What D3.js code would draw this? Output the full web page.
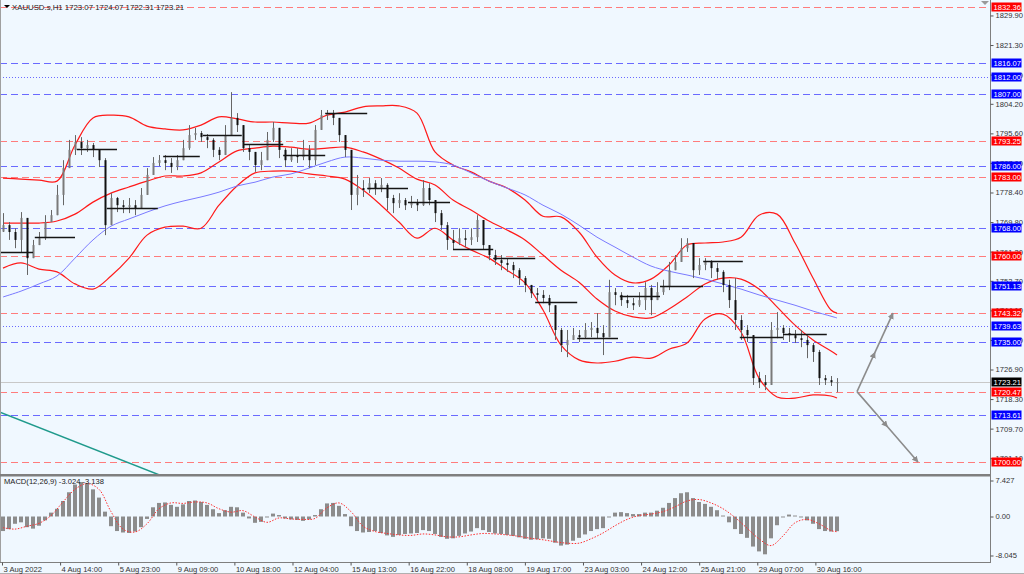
<!DOCTYPE html>
<html><head><meta charset="utf-8">
<script src="https://cdn.jsdelivr.net/npm/d3@7"></script>
<style>
html,body{margin:0;padding:0;background:#f0f8ff;overflow:hidden;}
svg{display:block;}
text{font-family:"Liberation Sans",Arial,sans-serif;}
</style></head><body>
<svg id="c" width="1024" height="574"></svg>
<script>
// ---------- DATA ----------
const titleText = "XAUUSD.s,H1  1723.07 1724.07 1722.31 1723.21";
const macdTitle = "MACD(12,26,9) -3.024 -3.138";
const firstOpen = 1767.0;
const closes = [
1768.9,1766.9,1764.6,1771.0,1759.3,1763.1,1765.1,1769.8,1771.8,1777.7,
1785.5,1790.8,1793.1,1791.3,1792.2,1790.8,1787.8,1768.9,1776.8,1774.7,
1774.2,1774.7,1773.9,1777.7,1783.5,1787.0,1787.8,1787.0,1785.8,1787.8,
1791.3,1795.1,1795.7,1794.5,1793.7,1790.8,1789.3,1795.1,1800.1,1798.0,
1791.3,1790.2,1786.4,1787.8,1793.7,1797.2,1790.8,1787.8,1789.3,1788.7,
1790.8,1787.8,1796.6,1800.9,1801.5,1800.1,1795.1,1790.8,1777.7,1779.7,
1779.1,1781.1,1779.7,1780.6,1776.8,1775.3,1776.2,1774.7,1775.6,1774.7,
1779.7,1776.2,1772.4,1768.9,1764.6,1763.7,1765.1,1764.6,1765.4,1770.4,
1763.1,1760.2,1758.7,1757.9,1757.3,1755.8,1753.5,1751.5,1749.1,1748.6,
1747.7,1745.6,1738.4,1734.0,1735.5,1736.9,1736.3,1738.4,1739.0,1737.5,
1736.3,1749.4,1748.6,1747.1,1746.2,1745.6,1747.1,1750.6,1747.1,1749.4,
1750.9,1755.8,1758.2,1762.2,1763.7,1755.8,1757.3,1758.2,1756.4,1755.3,
1751.5,1747.1,1741.3,1738.4,1736.9,1724.4,1723.2,1722.4,1738.4,1739.0,
1737.5,1736.9,1736.0,1735.5,1734.0,1732.0,1724.4,1723.8,1723.2,1723.21];
const highs = [
1772.4,1769.8,1768.0,1772.7,1764.6,1764.6,1766.9,1771.8,1773.3,1780.6,
1787.8,1793.7,1795.1,1794.5,1793.7,1792.8,1790.8,1788.4,1778.2,1777.1,
1776.2,1776.8,1776.2,1779.7,1785.5,1788.7,1789.3,1789.3,1788.4,1789.3,
1793.7,1798.0,1797.2,1796.3,1795.4,1794.2,1791.6,1798.0,1807.6,1801.5,
1798.0,1792.2,1789.3,1790.2,1796.0,1798.9,1797.2,1791.3,1791.3,1791.3,
1793.7,1792.2,1798.0,1802.4,1802.4,1802.4,1800.1,1795.1,1790.8,1783.5,
1782.0,1782.6,1782.0,1782.6,1781.1,1777.7,1778.2,1776.8,1777.4,1776.5,
1782.0,1781.1,1776.2,1773.3,1769.8,1767.5,1768.0,1767.5,1768.0,1771.8,
1769.8,1763.1,1761.7,1760.2,1759.3,1758.2,1756.4,1754.1,1751.5,1750.6,
1750.0,1748.6,1745.6,1739.0,1738.4,1739.0,1738.4,1740.4,1740.7,1743.3,
1739.8,1753.0,1750.6,1749.4,1748.6,1747.7,1749.4,1752.3,1751.5,1752.3,
1753.0,1758.2,1760.2,1765.1,1765.1,1763.1,1759.3,1759.3,1758.7,1757.9,
1755.8,1753.0,1753.5,1742.7,1739.8,1736.9,1726.2,1725.3,1740.7,1743.6,
1739.8,1739.0,1738.4,1738.4,1736.9,1734.6,1732.6,1725.3,1725.0,1724.4];
const lows = [
1766.9,1764.6,1762.2,1761.1,1754.4,1759.3,1763.1,1764.6,1769.8,1773.3,
1774.7,1785.5,1789.3,1789.3,1790.2,1788.7,1785.8,1766.0,1771.8,1772.7,
1772.4,1772.4,1771.8,1773.9,1777.7,1784.4,1786.1,1784.9,1784.1,1784.9,
1787.8,1790.8,1793.7,1793.1,1791.3,1788.7,1787.8,1790.8,1796.6,1796.0,
1790.2,1787.8,1784.4,1784.9,1787.8,1793.1,1788.4,1785.8,1787.3,1787.0,
1787.8,1785.5,1786.4,1797.2,1799.5,1798.0,1793.1,1788.7,1773.3,1774.7,
1777.1,1778.2,1777.7,1778.5,1773.3,1772.4,1773.9,1773.3,1773.9,1773.0,
1774.5,1774.7,1769.8,1767.5,1761.7,1761.7,1763.1,1762.5,1763.1,1764.0,
1761.7,1758.7,1757.3,1755.8,1755.3,1753.5,1751.5,1749.4,1747.7,1747.1,
1746.2,1743.6,1735.5,1732.0,1730.5,1735.5,1734.9,1736.0,1736.3,1736.0,
1731.1,1736.3,1745.6,1745.4,1744.8,1744.2,1745.1,1744.2,1742.7,1747.1,
1748.6,1750.0,1755.8,1758.2,1761.1,1753.5,1754.4,1755.8,1753.5,1753.0,
1749.4,1744.8,1738.4,1735.5,1734.9,1722.4,1721.5,1720.9,1722.4,1736.0,
1735.5,1734.9,1734.6,1733.4,1730.2,1729.1,1722.4,1722.4,1722.1,1720.3];

// Bollinger bands and moving average, read every 3rd bar (plus the last bar)
const bbUpper = [1782.6,1782.3,1782.0,1781.7,1792.2,1800.1,1800.9,1800.4,1797.7,1796.9,
1796.6,1798.0,1800.4,1799.8,1798.9,1798.9,1798.6,1798.6,1800.9,1801.8,
1803.3,1803.6,1803.6,1801.5,1790.2,1786.4,1784.4,1781.7,1779.7,1776.2,
1771.5,1771.3,1766.9,1759.6,1754.4,1752.1,1753.2,1757.3,1763.1,1763.7,
1764.0,1765.4,1771.8,1772.1,1763.7,1753.5,1744.2,1743.3];
const bbMiddle = [1769.5,1769.5,1769.5,1770.1,1772.1,1775.6,1778.2,1780.0,1781.7,1783.2,
1783.2,1784.1,1787.3,1790.5,1791.3,1791.9,1791.6,1791.0,1791.3,1791.6,
1790.2,1788.1,1785.5,1782.3,1780.6,1776.2,1773.3,1770.1,1767.5,1764.6,
1760.2,1755.8,1752.3,1747.4,1743.9,1742.2,1741.9,1744.5,1748.0,1751.8,
1753.5,1753.2,1750.3,1745.1,1739.8,1735.5,1732.3,1731.1];
const bbLower = [1756.4,1757.9,1756.1,1755.3,1751.8,1750.3,1754.1,1759.3,1766.0,1768.3,
1768.6,1768.0,1774.7,1780.3,1784.1,1784.6,1784.6,1783.8,1783.2,1782.3,
1779.1,1774.7,1769.8,1765.1,1768.0,1764.6,1761.7,1759.3,1755.8,1752.1,
1744.2,1734.0,1729.7,1728.8,1729.3,1730.5,1730.2,1732.8,1734.6,1741.6,
1743.0,1737.8,1724.4,1718.9,1718.6,1719.5,1719.2,1718.6];
const maBlue = [1748.0,1749.7,1751.8,1754.1,1759.3,1764.6,1768.6,1770.7,1772.7,1774.5,
1775.9,1777.1,1778.5,1780.3,1781.4,1782.9,1783.8,1785.5,1787.3,1788.7,
1788.4,1787.8,1787.5,1787.5,1787.3,1786.4,1784.1,1781.7,1779.7,1777.7,
1774.7,1772.1,1768.9,1765.4,1762.5,1759.6,1757.0,1755.5,1754.4,1753.2,
1751.8,1750.3,1748.6,1747.1,1745.6,1743.9,1742.4,1741.9];

const macdHist = [
-3.0,-2.6,-1.5,-1.2,-2.2,-2.5,-1.9,-0.8,0.8,1.6,
3.2,5.0,6.6,7.1,6.8,5.6,3.9,1.0,-2.0,-3.0,
-3.3,-3.4,-3.1,-2.2,-0.5,1.9,2.8,2.9,2.4,2.0,
2.5,3.2,3.3,3.0,2.4,1.5,0.7,1.3,2.0,1.9,
0.8,-0.4,-1.3,-1.1,-0.2,0.6,0.3,-0.4,-0.6,-0.7,
-0.9,-0.6,0.3,1.5,2.7,2.8,2.2,0.5,-2.0,-3.0,
-3.3,-3.2,-3.0,-3.4,-3.9,-4.2,-3.8,-3.6,-3.5,-3.4,
-2.8,-3.0,-3.6,-4.2,-4.6,-4.5,-4.0,-3.5,-3.1,-2.4,
-2.8,-3.2,-3.5,-3.6,-3.8,-4.0,-4.3,-4.6,-4.8,-4.7,
-4.5,-4.6,-5.4,-6.0,-5.8,-5.0,-4.4,-3.7,-3.0,-2.6,
-2.4,-0.2,0.8,0.9,0.7,0.5,0.5,0.8,0.8,1.2,
1.8,2.8,3.8,4.8,5.0,3.8,3.0,2.6,2.0,1.3,
0.2,-1.2,-2.6,-3.6,-4.4,-6.2,-7.2,-7.8,-4.5,-1.8,
-0.2,0.4,0.2,-0.2,-0.8,-1.5,-2.6,-3.0,-3.1,-3.024];
// signal line, read every 2nd bar (plus the last bar)
const macdSignal = [
-2.3,-2.6,-2.0,-1.4,0.2,3.0,5.6,6.8,5.6,1.0,
-2.6,-3.2,-1.5,1.6,2.8,2.7,3.0,2.8,1.6,0.9,
1.2,-0.1,-1.2,-0.3,-0.5,-0.6,-0.4,1.8,2.8,1.0,
-2.0,-3.1,-3.5,-3.8,-3.9,-3.6,-3.8,-4.2,-4.2,-3.8,
-3.5,-3.6,-3.8,-4.1,-4.5,-4.8,-5.2,-5.5,-5.5,-4.6,
-3.4,-1.9,-0.6,0.2,0.5,1.0,2.0,3.2,3.5,2.8,
1.6,-0.2,-2.4,-4.6,-6.0,-4.0,-1.3,-0.6,-1.5,-2.9,-3.138];

const xLabels = ["3 Aug 2022","4 Aug 14:00","5 Aug 23:00","9 Aug 09:00","10 Aug 18:00","12 Aug 04:00",
"15 Aug 13:00","16 Aug 22:00","18 Aug 08:00","19 Aug 17:00","23 Aug 03:00","24 Aug 12:00",
"25 Aug 21:00","29 Aug 07:00","30 Aug 16:00"];
const barsPerLabel = 9.683;
const yTicks = [1829.90,1821.30,1812.70,1804.20,1795.60,1787.00,1778.40,1769.80,1761.20,1752.70,1744.10,1735.50,1726.90,1718.30,1709.70,1701.10];
const macdTicks = [7.427,0,-8.045];
const macdTickLabels = ["7.427","0.00","-8.045"];

const levelPrices = [1832.36,1816.07,1812.00,1807.00,1793.25,1786.00,1783.00,1768.00,1760.00,1751.13,1743.32,1739.63,1735.00,1720.47,1713.61,1700.00];
const levelKinds  = ["red","blue","blueDot","blue","red","blue","red","blue","red","blue","red","blueDot","blue","red","blue","red"];
const currentPrice = 1723.21;

const pivotFrom  = [-0.5,5.3,12.3,17.3,26.7,33.3,40,46.7,53.7,60.7,67.5,75,81.7,88.7,95.7,102.8,109.5,116.7,122.8,130];
const pivotTo    = [5,12,19,25.8,32.8,39.8,46.7,53.7,60.7,67.5,74.5,81.7,88.7,95.7,102.5,109.5,116.7,123.3,130,137.3];
const pivotPrice = [1761.1,1765.4,1791.0,1773.9,1789.0,1795.1,1792.5,1789.3,1801.5,1779.7,1775.6,1761.9,1759.3,1746.5,1736.0,1748.3,1751.2,1758.4,1736.3,1737.2];

const trendBars = [-0.5, 25.67];
const trendPrices = [1714.5, 1696.5];

const arrowStart = [142.33, 1720.47];
const arrowEndBars = [148.33, 152.5];
const arrowEndPrices = [1743.32, 1700.00];

// ---------- DRAW ----------
const svg = d3.select("#c");
const plotR = 990, mainB = 474, macdT = 477, macdB = 562;
const x = d3.scaleLinear().domain([0,139]).range([3,837]);
const y = d3.scaleLinear().domain([1696.5,1834.4]).range([474,0]);
const ym = d3.scaleLinear().domain([-8.045,7.427]).range([555.5,480.5]);

svg.append("rect").attr("width",1024).attr("height",574).attr("fill","#f0f8ff");

const defs = svg.append("defs");
defs.append("clipPath").attr("id","mainClip").append("rect").attr("x",0).attr("y",0).attr("width",plotR).attr("height",mainB);
defs.append("clipPath").attr("id","macdClip").append("rect").attr("x",0).attr("y",macdT).attr("width",plotR).attr("height",macdB-macdT);
defs.append("marker").attr("id","arr").attr("viewBox","0 0 10 10").attr("refX",9).attr("refY",5)
  .attr("markerWidth",4).attr("markerHeight",4).attr("orient","auto")
  .append("path").attr("d","M0,0 L10,5 L0,10 z").attr("fill","#8c8c8c");

const main = svg.append("g").attr("clip-path","url(#mainClip)");
const colors = {red:"#ff7c7c", blue:"#6a6aff", blueDot:"#6a6aff"};
const dashes = {red:"7,4", blue:"7,4", blueDot:"1,2"};

// level lines
levelPrices.forEach((p,i)=>{
  const yy = Math.round(y(p))+0.5;
  main.append("line").attr("x1",0).attr("x2",plotR).attr("y1",yy).attr("y2",yy)
    .attr("stroke",colors[levelKinds[i]]).attr("stroke-width",1).attr("stroke-dasharray",dashes[levelKinds[i]]);
});
// current price line
{
  const yy = Math.round(y(currentPrice))+0.5;
  main.append("line").attr("x1",0).attr("x2",plotR).attr("y1",yy).attr("y2",yy).attr("stroke","#c8c8c8").attr("stroke-width",1);
}

// bands
const bandIdx = d3.range(0,139,3).concat([139]);
const bandLine = d3.line().x((d,k)=>x(bandIdx[k])).y(d=>y(d)).curve(d3.curveCatmullRom.alpha(0.5));
[bbUpper,bbMiddle,bbLower].forEach(s=>{
  main.append("path").attr("d",bandLine(s)).attr("fill","none").attr("stroke","#ff1a1a").attr("stroke-width",1.2);
});
main.append("path").attr("d",bandLine(maBlue)).attr("fill","none").attr("stroke","#7a7aff").attr("stroke-width",1);

// candles
const cg = main.append("g");
closes.forEach((c,i)=>{
  const o = i ? closes[i-1] : firstOpen;
  const hi = Math.max(highs[i],o,c), lo = Math.min(lows[i],o,c);
  const xx = Math.round(x(i))+0.5;
  cg.append("line").attr("x1",xx).attr("x2",xx).attr("y1",y(hi)).attr("y2",y(lo)).attr("stroke","#666").attr("stroke-width",1);
  const top = y(Math.max(o,c)), h = Math.max(1, Math.abs(y(o)-y(c)));
  cg.append("rect").attr("x",xx-1).attr("y",top).attr("width",2).attr("height",h)
    .attr("fill", c<o ? "#111" : "#7a7a7a");
});

// pivot segments
pivotPrice.forEach((p,i)=>{
  const yy = Math.round(y(p))+0.5;
  main.append("line").attr("x1",x(pivotFrom[i])).attr("x2",x(pivotTo[i])).attr("y1",yy).attr("y2",yy)
    .attr("stroke","#151515").attr("stroke-width",1.3);
});

// teal trendline
{
  const x1=x(trendBars[0]), y1=y(trendPrices[0]), x2=x(trendBars[1]), y2=y(trendPrices[1]);
  main.append("line").attr("x1",x1).attr("y1",y1).attr("x2",x2+(x2-x1)*0.1).attr("y2",y2+(y2-y1)*0.1)
    .attr("stroke","#1f9a8c").attr("stroke-width",1.5);
}

// arrows
arrowEndBars.forEach((b,i)=>{
  const sx=x(arrowStart[0]), sy=y(arrowStart[1]), ex=x(b), ey=y(arrowEndPrices[i]);
  const mx=(sx+ex)/2, my=(sy+ey)/2;
  main.append("path").attr("d",`M${sx},${sy}L${mx},${my}L${ex},${ey}`).attr("fill","none")
    .attr("stroke","#8c8c8c").attr("stroke-width",1.6)
    .attr("marker-mid","url(#arr)").attr("marker-end","url(#arr)");
});

// MACD
const mg = svg.append("g").attr("clip-path","url(#macdClip)");
macdHist.forEach((v,i)=>{
  const xx = Math.round(x(i));
  const y0 = ym(0), y1 = ym(v);
  mg.append("rect").attr("x",xx-2).attr("width",4).attr("y",Math.min(y0,y1)).attr("height",Math.max(0.5,Math.abs(y1-y0)))
    .attr("fill","#8c8c8c");
});
const sigIdx = macdSignal.map((v,k)=> k < macdSignal.length-1 ? 2*k : 139);
mg.append("path").attr("d", d3.line().x((d,k)=>x(sigIdx[k])).y(d=>ym(d)).curve(d3.curveCatmullRom)(macdSignal))
  .attr("fill","none").attr("stroke","#ff3030").attr("stroke-width",1).attr("stroke-dasharray","1.5,1.5");

// frames
const frame = "#7f7f7f";
svg.append("line").attr("x1",0.5).attr("x2",0.5).attr("y1",0).attr("y2",macdB).attr("stroke","#a0a0a0");
svg.append("rect").attr("x",0).attr("y",mainB).attr("width",plotR+1).attr("height",2.5).attr("fill",frame);
svg.append("line").attr("x1",0).attr("x2",plotR).attr("y1",macdB+0.5).attr("y2",macdB+0.5).attr("stroke",frame);
svg.append("line").attr("x1",plotR+0.5).attr("x2",plotR+0.5).attr("y1",0).attr("y2",macdB+1).attr("stroke",frame);
svg.append("line").attr("x1",0).attr("x2",1024).attr("y1",573.5).attr("y2",573.5).attr("stroke","#b0b0b0");

// y axis (price)
const yAxis = d3.axisRight(y).tickValues(yTicks).tickFormat(d3.format(".2f")).tickSize(3).tickPadding(2);
const ya = svg.append("g").attr("transform",`translate(${plotR+0.5},0)`).call(yAxis);
ya.select(".domain").remove();
ya.selectAll("line").attr("stroke","#555");
ya.selectAll("text").attr("font-size","7.6px").attr("fill","#333").attr("font-family","Liberation Sans, Arial");

// macd axis
const mAxis = d3.axisRight(ym).tickValues(macdTicks).tickFormat((d,i)=>macdTickLabels[i]).tickSize(3).tickPadding(2);
const ma = svg.append("g").attr("transform",`translate(${plotR+0.5},0)`).call(mAxis);
ma.select(".domain").remove();
ma.selectAll("line").attr("stroke","#555");
ma.selectAll("text").attr("font-size","7.6px").attr("fill","#333").attr("font-family","Liberation Sans, Arial");

// x axis
const tickIdx = xLabels.map((d,k)=> k*barsPerLabel - 0.167);
const xAxis = d3.axisBottom(x).tickValues(tickIdx).tickFormat((d,i)=>xLabels[i]).tickSize(3).tickPadding(1);
const xa = svg.append("g").attr("transform",`translate(0,${macdB+0.5})`).call(xAxis);
xa.select(".domain").remove();
xa.selectAll("line").attr("stroke","#555");
xa.selectAll("text").attr("font-size","7.6px").attr("fill","#333").attr("text-anchor","start").attr("dx","1px")
  .attr("font-family","Liberation Sans, Arial");

// level labels
const bg = {red:"#ff0000", blue:"#0000ff", blueDot:"#0000ff"};
levelPrices.forEach((p,i)=>{
  const yy = y(p);
  svg.append("rect").attr("x",plotR+1.5).attr("y",Math.round(yy)-4.5).attr("width",30).attr("height",9).attr("fill",bg[levelKinds[i]]);
  svg.append("text").attr("x",plotR+3.5).attr("y",Math.round(yy)+3).attr("font-size","7.6px").attr("fill","#fff").text(p.toFixed(2));
});
{
  const yy = y(currentPrice);
  svg.append("rect").attr("x",plotR+1.5).attr("y",Math.round(yy)-4.5).attr("width",30).attr("height",9).attr("fill","#000");
  svg.append("text").attr("x",plotR+3.5).attr("y",Math.round(yy)+3).attr("font-size","7.6px").attr("fill","#fff").text(currentPrice.toFixed(2));
}

// titles
svg.append("path").attr("d","M4,5 L10,5 L7,8 z").attr("fill","#000");
svg.append("text").attr("x",12).attr("y",10).attr("font-size","7.8px").attr("fill","#222").text(titleText);
svg.append("text").attr("x",4).attr("y",484).attr("font-size","7.6px").attr("fill","#222").text(macdTitle);
svg.append("path").attr("d","M981,1 L989,1 L985,5 z").attr("fill","#9a9a9a");
</script>
</body></html>
